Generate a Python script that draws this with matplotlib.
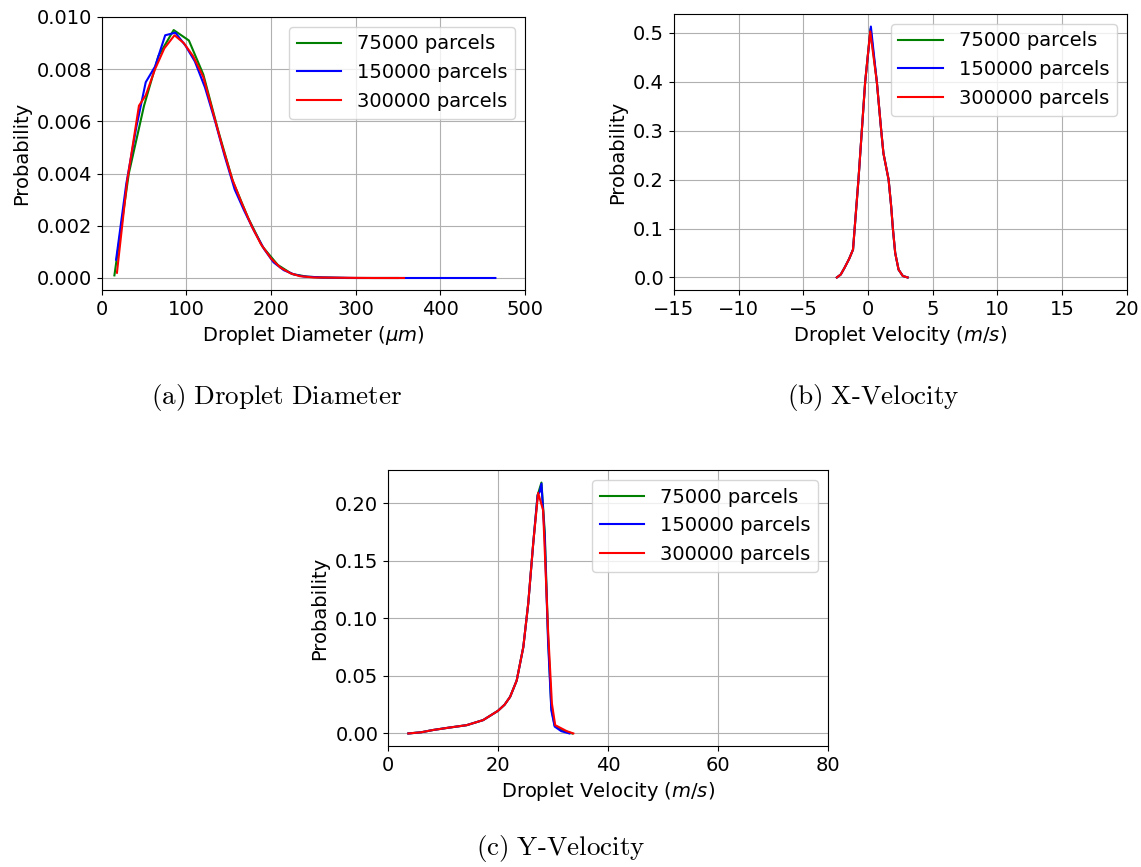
import matplotlib
matplotlib.use("Agg")
import matplotlib.pyplot as plt

labels = ["75000 parcels", "150000 parcels", "300000 parcels"]
colors = ["g", "b", "r"]

# (a) droplet diameter (um) vs probability
d_75k = [15, 32, 50, 67, 85, 103, 120, 138, 155, 173, 190, 208, 225, 243, 260, 290, 320, 350]
p_d_75k = [0.0001, 0.0040, 0.0066, 0.0085, 0.0095, 0.0091, 0.0078, 0.0056, 0.0037, 0.0023,
           0.0012, 0.0005, 0.00015, 0.00005, 0.00002, 0.0, 0.0, 0.0]
d_150k = [17, 29, 41, 52, 63, 75, 87, 99, 110, 122, 134, 145, 157, 168, 180, 192, 203, 215,
          227, 238, 260, 300, 350, 400, 465]
p_d_150k = [0.0007, 0.0036, 0.0058, 0.0075, 0.0081, 0.0093, 0.0094, 0.0089, 0.0083, 0.0073,
            0.0060, 0.0047, 0.0034, 0.0026, 0.0018, 0.0011, 0.0006, 0.0003, 0.00014, 0.00006,
            0.00002, 0.0, 0.0, 0.0, 0.0]
d_300k = [18, 30, 44, 52, 63, 74, 86, 97, 108, 120, 131, 142, 154, 165, 177, 188, 200, 211,
          223, 234, 250, 280, 320, 357]
p_d_300k = [0.0002, 0.0037, 0.0066, 0.0070, 0.0080, 0.0088, 0.0093, 0.0090, 0.0085, 0.0077,
            0.0064, 0.0051, 0.0038, 0.0029, 0.0020, 0.0013, 0.00075, 0.0004, 0.00018, 0.00007,
            0.00002, 0.00001, 0.0, 0.0]

# (b) x-velocity (m/s)
u_75k = [-2.40, -2.10, -1.80, -1.45, -1.15, -0.73, -0.47, -0.21, 0.20, 0.69, 1.03, 1.20,
         1.60, 1.80, 1.93, 2.11, 2.37, 2.70, 3.07]
p_u_75k = [0.0, 0.006, 0.020, 0.038, 0.057, 0.200, 0.300, 0.400, 0.508, 0.400, 0.300, 0.254,
           0.200, 0.145, 0.100, 0.050, 0.016, 0.003, 0.0]
u_150k = [-2.40, -2.10, -1.80, -1.45, -1.15, -0.73, -0.47, -0.21, 0.23, 0.69, 1.03, 1.20,
          1.60, 1.80, 1.93, 2.11, 2.37, 2.70, 3.07]
p_u_150k = [0.0, 0.006, 0.020, 0.038, 0.057, 0.200, 0.300, 0.400, 0.513, 0.400, 0.300, 0.254,
            0.200, 0.145, 0.100, 0.050, 0.016, 0.003, 0.0]
u_300k = [-2.40, -2.10, -1.80, -1.45, -1.15, -0.73, -0.47, -0.21, 0.18, 0.69, 1.03, 1.20,
          1.60, 1.80, 1.93, 2.11, 2.37, 2.70, 3.07]
p_u_300k = [0.0, 0.006, 0.020, 0.038, 0.057, 0.200, 0.300, 0.400, 0.503, 0.400, 0.300, 0.254,
            0.200, 0.145, 0.100, 0.050, 0.016, 0.003, 0.0]

# (c) y-velocity (m/s)
v_75k = [3.7, 6.0, 8.2, 11.0, 14.3, 17.3, 20.0, 21.2, 22.2, 23.4, 24.6, 25.5, 26.4, 27.2,
         27.9, 28.5, 29.1, 29.7, 30.3, 31.5, 33.5]
p_v_75k = [0.0, 0.001, 0.003, 0.005, 0.0072, 0.0116, 0.0197, 0.025, 0.0318, 0.046, 0.075,
           0.113, 0.165, 0.207, 0.218, 0.175, 0.085, 0.022, 0.007, 0.003, 0.0]
v_150k = [3.7, 6.0, 8.2, 11.0, 14.3, 17.3, 20.0, 21.2, 22.2, 23.4, 24.6, 25.5, 26.4, 27.2,
          27.6, 27.9, 28.5, 29.1, 29.7, 30.3, 31.5, 33.0]
p_v_150k = [0.0, 0.001, 0.003, 0.005, 0.0072, 0.0116, 0.0197, 0.025, 0.0318, 0.046, 0.075,
            0.113, 0.165, 0.207, 0.210, 0.217, 0.170, 0.080, 0.020, 0.006, 0.002, 0.0]
v_300k = [3.7, 6.0, 8.2, 11.0, 14.3, 17.3, 20.0, 21.2, 22.2, 23.4, 24.6, 25.5, 26.4, 27.3,
          28.2, 29.1, 29.8, 30.4, 31.5, 32.5, 33.7]
p_v_300k = [0.0, 0.001, 0.003, 0.005, 0.0072, 0.0116, 0.0197, 0.025, 0.0318, 0.046, 0.075,
            0.113, 0.165, 0.209, 0.194, 0.0896, 0.026, 0.0072, 0.0045, 0.002, 0.0]

plt.rcParams["font.size"] = 14

W, H = 1141, 867
fig = plt.figure(figsize=(W / 100, H / 100), dpi=100)


def px_axes(left, top, right, bottom):
    # axes box given in pixels from the top-left corner
    return fig.add_axes([left / W, 1 - bottom / H, (right - left) / W, (bottom - top) / H])


ax_a = px_axes(101.7, 17, 525, 290)
ax_b = px_axes(673.8, 14, 1126.7, 290)
ax_c = px_axes(388, 470, 828, 746)

panels = [
    (ax_a, [(d_75k, p_d_75k), (d_150k, p_d_150k), (d_300k, p_d_300k)],
     "Droplet Diameter ($\\mu m$)", (0, 500)),
    (ax_b, [(u_75k, p_u_75k), (u_150k, p_u_150k), (u_300k, p_u_300k)],
     "Droplet Velocity ($m/s$)", (-15, 20)),
    (ax_c, [(v_75k, p_v_75k), (v_150k, p_v_150k), (v_300k, p_v_300k)],
     "Droplet Velocity ($m/s$)", (0, 80)),
]

for ax, series, xlabel, xlim in panels:
    for (x, y), c, lab in zip(series, colors, labels):
        ax.plot(x, y, color=c, linewidth=1.5, label=lab)
    ax.set_xlim(*xlim)
    ax.set_xlabel(xlabel)
    ax.set_ylabel("Probability")
    ax.grid(True)
    ax.legend(loc="upper right", handlelength=2.3)

ax_a.set_yticks([0.0, 0.002, 0.004, 0.006, 0.008, 0.010])
ax_a.set_ylim(-0.00046, 0.010)

# captions in serif like the paper
cap_kw = dict(ha="center", va="center", fontsize=19.5, math_fontfamily="cm")
fig.text(276 / W, 1 - 397 / H, r"$\mathrm{(a)\ Droplet\ Diameter}$", **cap_kw)
fig.text(873 / W, 1 - 397 / H, r"$\mathrm{(b)\ X\text{-}Velocity}$", **cap_kw)
fig.text(561 / W, 1 - 849 / H, r"$\mathrm{(c)\ Y\text{-}Velocity}$", **cap_kw)

fig.savefig("out.png", dpi=100)
